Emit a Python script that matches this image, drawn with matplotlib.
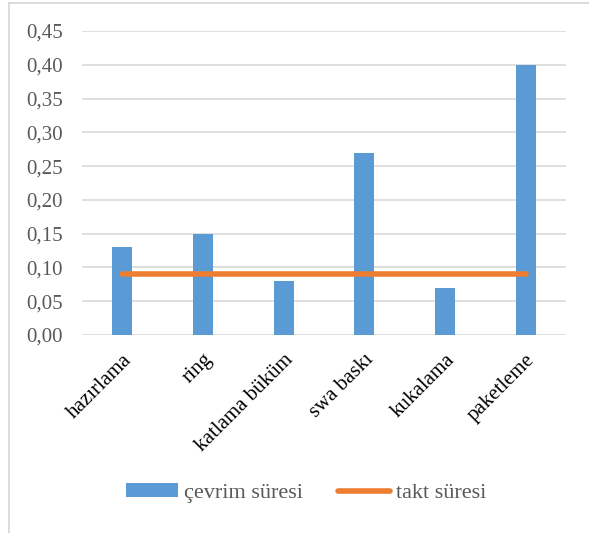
import numpy as np
import matplotlib.pyplot as plt
from matplotlib.lines import Line2D
from matplotlib.ticker import FuncFormatter

categories = ["hazırlama", "ring", "katlama büküm", "swa baskı", "kukalama", "paketleme"]
cevrim = [0.13, 0.15, 0.08, 0.27, 0.07, 0.40]
takt = [0.09, 0.09, 0.09, 0.09, 0.09, 0.09]

BLUE = "#5B9BD5"
ORANGE = "#ED7D31"
GRAY = "#595959"

plt.rcParams["font.family"] = ["Liberation Serif", "DejaVu Serif"]

fig = plt.figure(figsize=(5.89, 5.33), dpi=100)
# chart area border: only left and top edges are visible in the crop
fig.lines.append(Line2D([8.5 / 589, 8.5 / 589], [0, 1 - 2.5 / 533], transform=fig.transFigure,
                        color="#D9D9D9", linewidth=1.3))
fig.lines.append(Line2D([8.5 / 589, 1], [1 - 2.5 / 533, 1 - 2.5 / 533], transform=fig.transFigure,
                        color="#D9D9D9", linewidth=1.3))

ax = fig.add_axes([82 / 589, 1 - 335 / 533, (566 - 82) / 589, (335 - 31) / 533])
x = np.arange(len(categories))
bars = ax.bar(x, cevrim, width=0.25, color=BLUE, label="çevrim süresi", zorder=2)
line, = ax.plot(x, takt, color=ORANGE, linewidth=4, solid_capstyle="round", label="takt süresi", zorder=3)

ax.set_xlim(-0.5, len(categories) - 0.5)
ax.set_ylim(0, 0.45)
ax.set_yticks(np.arange(0, 0.451, 0.05))
ax.yaxis.set_major_formatter(FuncFormatter(lambda v, p: f"{v:.2f}".replace(".", ",")))
ax.grid(axis="y", color="#D9D9D9", linewidth=1.2, zorder=0)
ax.set_axisbelow(True)
for s in ax.spines.values():
    s.set_visible(False)
ax.tick_params(axis="both", length=0, labelsize=15)
ax.tick_params(axis="y", pad=14, labelcolor=GRAY)
ax.set_xticks(x)
ax.set_xticklabels(categories, rotation=45, ha="right", rotation_mode="anchor")
ax.tick_params(axis="x", pad=11, labelcolor="black")

fig.legend([bars, line], ["çevrim süresi", "takt süresi"], loc="center",
           bbox_to_anchor=(306 / 589, 1 - 493 / 533), ncol=2, frameon=False,
           fontsize=16, handlelength=2.35, handleheight=0.55, columnspacing=1.6,
           handletextpad=0.25, labelcolor=GRAY)

fig.savefig("out.png", dpi=100)
